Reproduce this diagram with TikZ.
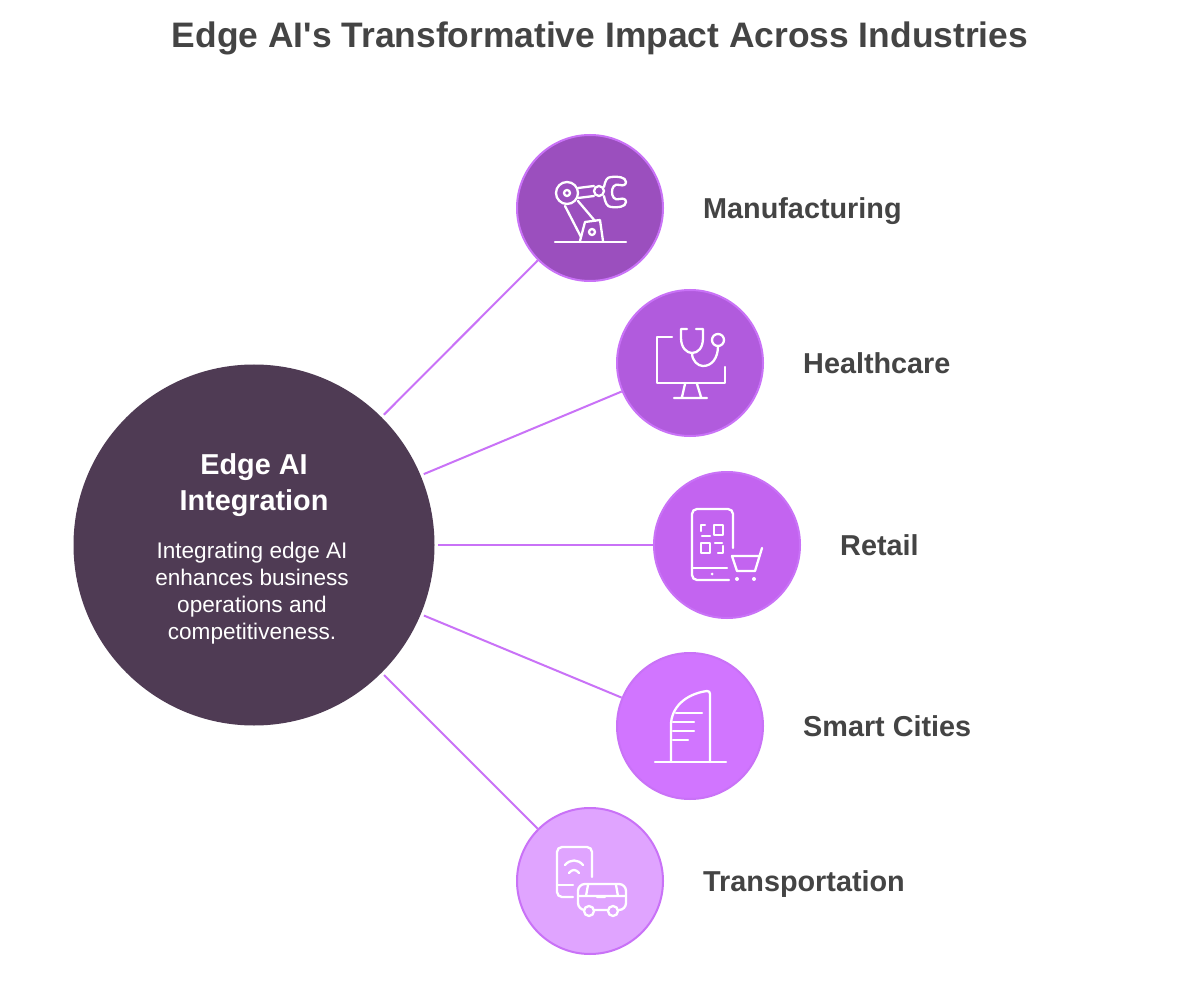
\documentclass[tikz,border=0pt]{standalone}
\usepackage{fontspec}
\setmainfont{Liberation Sans}[Ligatures=TeXOff]
\usepackage{xcolor}
\usetikzlibrary{positioning}
\definecolor{inktext}{HTML}{444444}
\definecolor{hubfill}{HTML}{4F3B54}
\definecolor{linkcol}{HTML}{C972F7}
\definecolor{manfill}{HTML}{9B4FBE}
\definecolor{helfill}{HTML}{B15BDD}
\definecolor{retfill}{HTML}{C364F0}
\definecolor{citfill}{HTML}{D175FF}
\definecolor{trafill}{HTML}{E0A4FF}
\tikzset{
	hub node/.style={circle,fill=hubfill,minimum size=361pt,inner sep=0pt,outer sep=3.5pt},
	hub head/.style={text=white,align=center,font=\fontsize{28.8}{36}\selectfont\bfseries},
	hub text/.style={text=white,align=center,font=\fontsize{22.6}{26.8}\selectfont},
	item node/.style={circle,draw=linkcol,line width=2pt,minimum size=146pt,inner sep=0pt},
	item label/.style={font=\fontsize{28.8}{32}\selectfont\bfseries,text=inktext,text height=27pt,text depth=6pt,inner sep=0pt,right=39pt of #1},
	link/.style={draw=linkcol,line width=2pt},
	glyph/.style={draw=white,line width=2.3pt,line cap=round,line join=round}
}
\begin{document}
\begin{tikzpicture}[x=1pt,y=-1pt]
	\useasboundingbox[fill=white] (0,0) rectangle (1200,1000);
	\node [font=\fontsize{35.4}{40}\selectfont\bfseries,text=inktext] (title) at (600,38) {Edge AI's Transformative Impact Across Industries};
	\node [hub node] (hub) at (254,545) {};
	\node [hub head] (hubh) at (254,485) {Edge AI\\Integration};
	\node [hub text] (hubt) at (252,593) {Integrating edge AI\\enhances business\\operations and\\competitiveness.};
	\node [item node,fill=manfill] (man) at (590,208) {};
	\node [item node,fill=helfill] (hel) at (690,363) {};
	\node [item node,fill=retfill] (ret) at (727,545) {};
	\node [item node,fill=citfill] (cit) at (690,726) {};
	\node [item node,fill=trafill] (tra) at (590,881) {};
	\node [item label=man] (manl) {Manufacturing};
	\node [item label=hel] (hell) {Healthcare};
	\node [item label=ret] (retl) {Retail};
	\node [item label=cit] (citl) {Smart Cities};
	\node [item label=tra] (tral) {Transportation};
	\foreach \x in {man,hel,ret,cit,tra}
		\draw [link] (hub) -- (\x);
	\begin{scope}[shift={(man)},glyph]
		\draw (-35,34) -- (36,34);
		\draw (-23,-15) circle (11) (-23,-15) circle (3);
		\draw (9,-17) circle (5);
		\draw (-12,-20) -- (4,-22) (-12,-10) -- (4,-12);
		\draw (-25,-2) -- (-9,29) (-12,-7) -- (5,13);
		\draw (-10,33) -- (-5,14) -- (10,12) -- (13,33);
		\draw (2,24) circle (3);
		\draw (14,-21) .. controls (15,-27) and (17,-31) .. (21,-31) .. controls (27,-32) and (36,-31) .. (36,-26) .. controls (36,-23) and (33,-22) .. (30,-23)
			.. controls (24,-25) and (22,-20) .. (22,-16) .. controls (22,-12) and (24,-7) .. (30,-9) .. controls (33,-10) and (36,-9) .. (36,-6) .. controls (36,-1) and (27,0) .. (21,-1) .. controls (17,-1) and (15,-6) .. (14,-12);
	\end{scope}
	\begin{scope}[shift={(hel)},glyph]
		\draw (-18,-26) -- (-33,-26) -- (-33,20) -- (35,20) -- (35,4);
		\draw (-5,21) -- (-8,34) (7,21) -- (11,34) (-16,35) -- (17,35);
		\draw (-3,-34) -- (-9,-34) -- (-9,-25) .. controls (-9,-15) and (-3,-10) .. (2,-10) .. controls (8,-10) and (13,-15) .. (13,-25) -- (13,-34) -- (6,-34);
		\draw (2,-10) .. controls (2,-2) and (8,3) .. (13,3) .. controls (22,3) and (28,-5) .. (28,-17);
		\draw (28,-23) circle (6);
	\end{scope}
	\begin{scope}[shift={(ret)},glyph]
		\draw [rounded corners=5pt] (6,3) -- (6,-36) -- (-35,-36) -- (-35,35) -- (2,35);
		\draw (-35,23) -- (0,23);
		\fill [white] (-15,29) circle (1.5);
		\draw (-13,-20) rectangle (-4,-10) (-26,-2) rectangle (-17,8);
		\draw (-22,-20) -- (-26,-20) -- (-26,-14) (-25,-9) -- (-17,-9) (-12,-2) -- (-5,-2) (-4,1) -- (-4,8) -- (-9,8);
		\draw (35,3) -- (28,26) -- (10,26) -- (5,11) -- (32,11);
		\fill [white] (10,34) circle (2) (27,34) circle (2);
	\end{scope}
	\begin{scope}[shift={(cit)},glyph]
		\draw (-35,36) -- (36,36);
		\draw (20,36) -- (20,-32) .. controls (20,-34) and (19,-35) .. (17,-35) .. controls (-5,-32) and (-19,-18) .. (-19,-1) -- (-19,36);
		\draw (-14,-13) -- (12,-13) (-17,-4) -- (4,-4) (-17,5) -- (4,5) (-17,14) -- (-2,14);
	\end{scope}
	\begin{scope}[shift={(tra)},glyph]
		\draw [rounded corners=5pt] (2,-4) -- (2,-34) -- (-33,-34) -- (-33,16) -- (-17,16);
		\draw (-33,4) -- (-17,4);
		\draw (-25,-16) .. controls (-20,-22) and (-12,-22) .. (-7,-16) (-21,-8) .. controls (-18,-12) and (-14,-12) .. (-11,-8);
		\draw [rounded corners=7pt] (-12,29) -- (-12,3) -- (36,3) -- (36,29) -- cycle;
		\draw (-12,15) -- (36,15) (-2,4) -- (-4,15) (26,4) -- (28,15) (7,16) -- (15,16);
		\filldraw [fill=trafill] (-1,30) circle (5) (23,30) circle (5);
	\end{scope}
\end{tikzpicture}
\end{document}
